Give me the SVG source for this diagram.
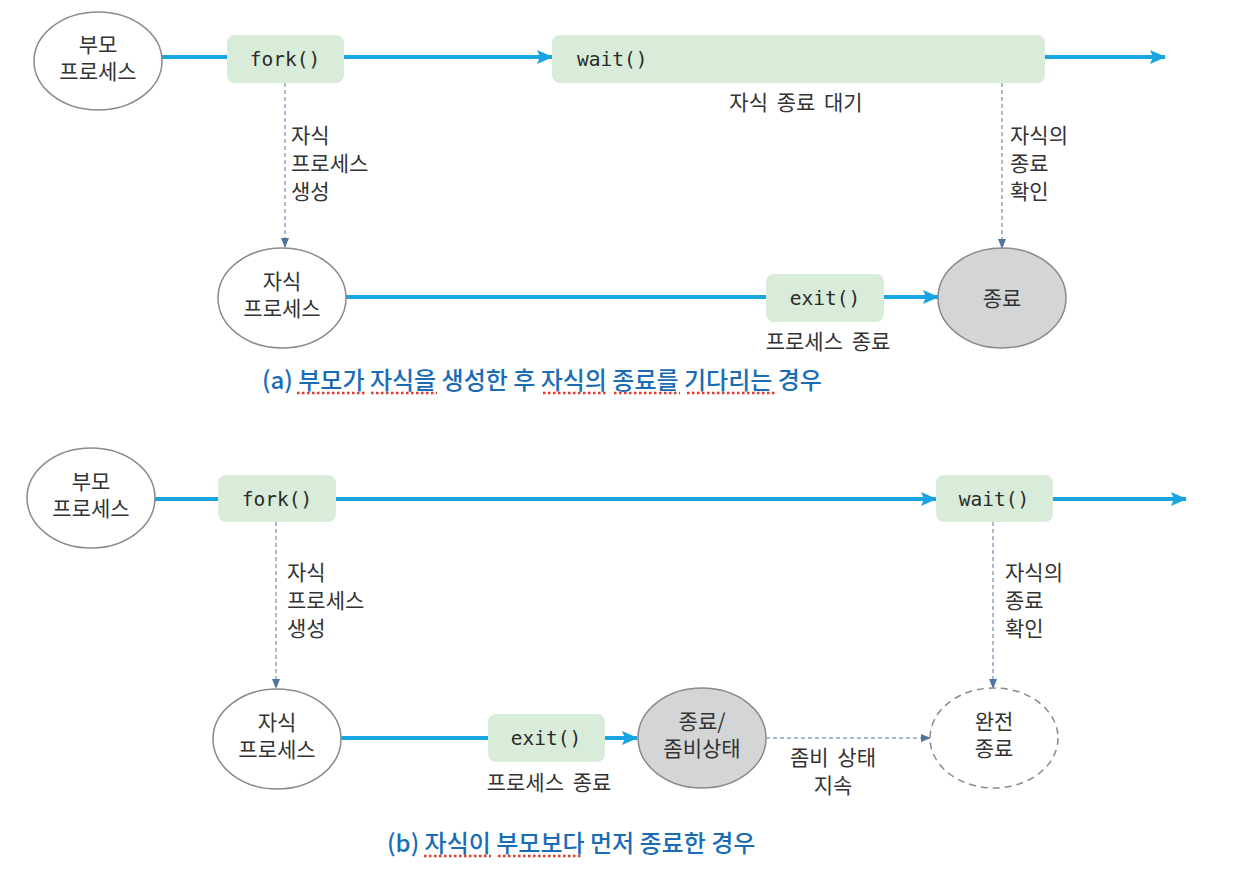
<svg xmlns="http://www.w3.org/2000/svg" width="1250" height="890" viewBox="0 0 1250 890">
<defs>
<marker id="blueArrow" viewBox="0 0 16 14" refX="15" refY="7" markerWidth="16" markerHeight="14" markerUnits="userSpaceOnUse" orient="auto">
<path d="M0,0 L16,7 L0,14 L3,7 z" fill="#18a4e0"/>
</marker>
<marker id="dashArrow" viewBox="0 0 10 10" refX="9" refY="5" markerWidth="10" markerHeight="10" markerUnits="userSpaceOnUse" orient="auto">
<path d="M0,1 L10,5 L0,9 z" fill="#4f74a0"/>
</marker>
<style>
.bg{fill:#ffffff}
.flow{stroke:#18a4e0;stroke-width:4;fill:none}
.dash{stroke:#4f74a0;stroke-width:1;stroke-dasharray:4 3;fill:none}
.ell{fill:#ffffff;stroke:#8a8a8a;stroke-width:1.5}
.grey{fill:#d4d5d6;stroke:#8a8a8a;stroke-width:1.5}
.dashEll{fill:#ffffff;stroke:#8a8a8a;stroke-width:1.5;stroke-dasharray:7 5}
.box{fill:#d8ecd9}
.kr{font-family:"Noto Sans CJK KR","Noto Sans",sans-serif;font-size:21px;fill:#333333;word-spacing:4px}
.mono{font-family:"DejaVu Sans Mono","Liberation Mono",monospace;font-size:19.5px;fill:#2a2a2a}
.cap{font-family:"Noto Sans CJK KR","Noto Sans",sans-serif;font-size:24px;fill:#1a6db5;font-weight:500}
.squig{stroke:#e03a2a;stroke-width:2.5;stroke-dasharray:2.5 2.5;fill:none}
</style>
</defs>
<rect class="bg" x="0" y="0" width="1250" height="890"/>

<g id="connectors">
<line class="flow" x1="162" y1="57" x2="228" y2="57"/>
<line class="flow" x1="344" y1="57" x2="552" y2="57" marker-end="url(#blueArrow)"/>
<line class="flow" x1="1045" y1="57" x2="1165" y2="57" marker-end="url(#blueArrow)"/>
<line class="dash" x1="285" y1="83" x2="285" y2="247" marker-end="url(#dashArrow)"/>
<line class="dash" x1="1002" y1="83" x2="1002" y2="248" marker-end="url(#dashArrow)"/>
<line class="flow" x1="346" y1="297" x2="766" y2="297"/>
<line class="flow" x1="884" y1="297" x2="938" y2="297" marker-end="url(#blueArrow)"/>
<line class="flow" x1="155" y1="499" x2="218" y2="499"/>
<line class="flow" x1="336" y1="499" x2="936" y2="499" marker-end="url(#blueArrow)"/>
<line class="flow" x1="1053" y1="499" x2="1186" y2="499" marker-end="url(#blueArrow)"/>
<line class="dash" x1="276" y1="522" x2="276" y2="688" marker-end="url(#dashArrow)"/>
<line class="dash" x1="993" y1="522" x2="993" y2="688" marker-end="url(#dashArrow)"/>
<line class="flow" x1="341" y1="738" x2="488" y2="738"/>
<line class="flow" x1="605" y1="738" x2="637" y2="738" marker-end="url(#blueArrow)"/>
<line class="dash" x1="766" y1="738" x2="930" y2="738" marker-end="url(#dashArrow)"/>
</g>

<g id="a-parent">
<ellipse class="ell" cx="98" cy="61" rx="64" ry="49"/>
<text class="kr" text-anchor="middle"><tspan x="98" y="52">부모</tspan><tspan x="98" y="79">프로세스</tspan></text>
</g>
<g id="a-fork">
<rect class="box" x="227" y="35" width="117" height="48" rx="8"/>
<text class="mono" x="285" y="66" text-anchor="middle">fork()</text>
</g>
<g id="a-wait">
<rect class="box" x="552" y="35" width="493" height="48" rx="8"/>
<text class="mono" x="577" y="66">wait()</text>
<text class="kr" x="796" y="110" text-anchor="middle">자식 종료 대기</text>
</g>
<g id="a-label-create">
<text class="kr"><tspan x="291" y="143">자식</tspan><tspan x="291" y="171">프로세스</tspan><tspan x="291" y="199">생성</tspan></text>
</g>
<g id="a-label-check">
<text class="kr"><tspan x="1010" y="143">자식의</tspan><tspan x="1010" y="171">종료</tspan><tspan x="1010" y="199">확인</tspan></text>
</g>
<g id="a-child">
<ellipse class="ell" cx="282" cy="298" rx="64" ry="50"/>
<text class="kr" text-anchor="middle"><tspan x="282" y="289">자식</tspan><tspan x="282" y="316">프로세스</tspan></text>
</g>
<g id="a-exit">
<rect class="box" x="766" y="274" width="118" height="48" rx="8"/>
<text class="mono" x="825" y="305" text-anchor="middle">exit()</text>
<text class="kr" x="828" y="349" text-anchor="middle">프로세스 종료</text>
</g>
<g id="a-end">
<ellipse class="grey" cx="1002" cy="298" rx="64" ry="50"/>
<text class="kr" x="1002" y="306" text-anchor="middle">종료</text>
</g>
<g id="a-caption">
<text class="cap" x="262" y="389">(a) 부모가 자식을 생성한 후 자식의 종료를 기다리는 경우</text>
<path class="squig" d="M297,393 H365 M371,393 H437 M543,393 H607 M614,393 H680 M687,393 H776"/>
</g>

<g id="b-parent">
<ellipse class="ell" cx="91" cy="498" rx="64" ry="50"/>
<text class="kr" text-anchor="middle"><tspan x="91" y="489">부모</tspan><tspan x="91" y="516">프로세스</tspan></text>
</g>
<g id="b-fork">
<rect class="box" x="218" y="475" width="118" height="47" rx="8"/>
<text class="mono" x="277" y="506" text-anchor="middle">fork()</text>
</g>
<g id="b-wait">
<rect class="box" x="936" y="475" width="117" height="47" rx="8"/>
<text class="mono" x="994" y="506" text-anchor="middle">wait()</text>
</g>
<g id="b-label-create">
<text class="kr"><tspan x="287" y="580">자식</tspan><tspan x="287" y="608">프로세스</tspan><tspan x="287" y="636">생성</tspan></text>
</g>
<g id="b-label-check">
<text class="kr"><tspan x="1005" y="580">자식의</tspan><tspan x="1005" y="608">종료</tspan><tspan x="1005" y="636">확인</tspan></text>
</g>
<g id="b-child">
<ellipse class="ell" cx="277" cy="739" rx="64" ry="50"/>
<text class="kr" text-anchor="middle"><tspan x="277" y="730">자식</tspan><tspan x="277" y="757">프로세스</tspan></text>
</g>
<g id="b-exit">
<rect class="box" x="488" y="714" width="117" height="48" rx="8"/>
<text class="mono" x="546" y="745" text-anchor="middle">exit()</text>
<text class="kr" x="549" y="790" text-anchor="middle">프로세스 종료</text>
</g>
<g id="b-zombie">
<ellipse class="grey" cx="702" cy="738" rx="64" ry="50"/>
<text class="kr" text-anchor="middle"><tspan x="702" y="729">종료/</tspan><tspan x="702" y="756">좀비상태</tspan></text>
</g>
<g id="b-zombie-label">
<text class="kr" text-anchor="middle"><tspan x="833" y="765">좀비 상태</tspan><tspan x="833" y="793">지속</tspan></text>
</g>
<g id="b-end">
<ellipse class="dashEll" cx="994" cy="738" rx="64" ry="50"/>
<text class="kr" text-anchor="middle"><tspan x="994" y="729">완전</tspan><tspan x="994" y="756">종료</tspan></text>
</g>
<g id="b-caption">
<text class="cap" x="387" y="852">(b) 자식이 부모보다 먼저 종료한 경우</text>
<path class="squig" d="M424,856 H491 M498,856 H583"/>
</g>
</svg>
